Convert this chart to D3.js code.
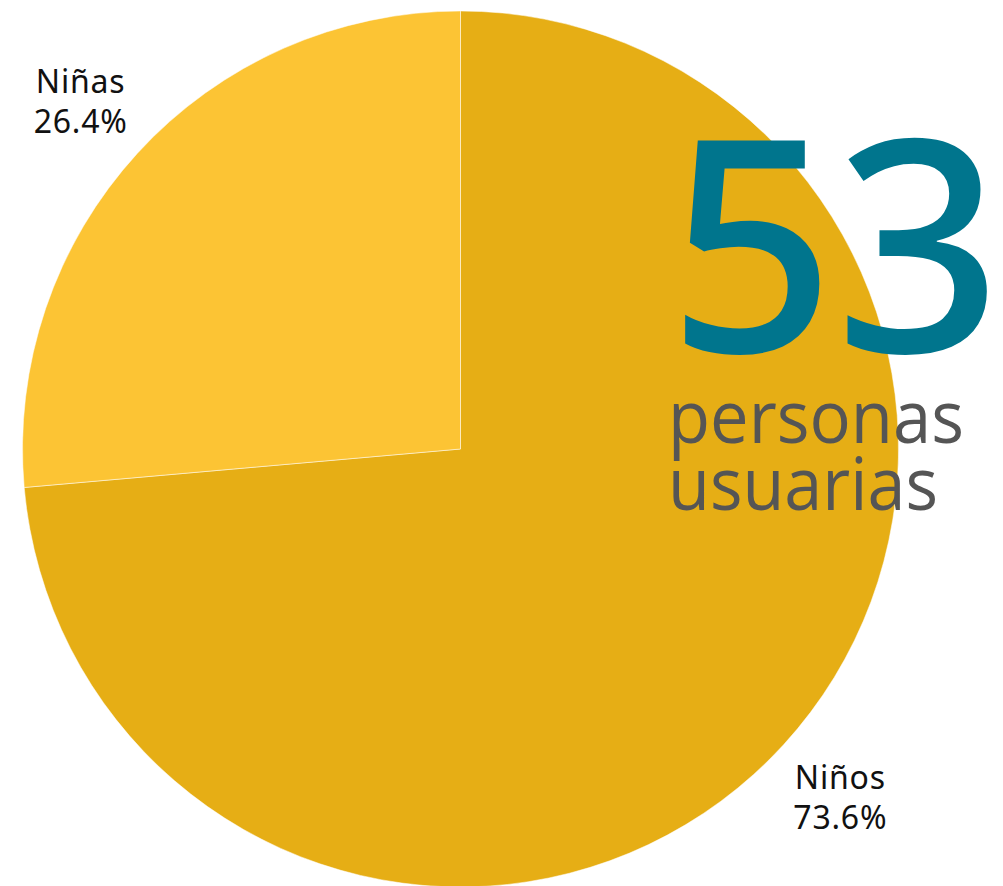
<!DOCTYPE html>
<html><head><meta charset="utf-8">
<script src="https://cdn.jsdelivr.net/npm/d3@7"></script>
<style>body{margin:0;background:#fff}svg{display:block}</style>
</head><body>
<svg id="c" width="1003" height="886"></svg>
<script>
const categories = ["Niños", "Niñas"];
const values = [73.6, 26.4];
const labels = ["73.6%", "26.4%"];
const colors = ["#E6AE15", "#FCC434"];
const total = 53;
const totalLines = ["personas", "usuarias"];

const W = 1003, H = 886;
const cx = 460.5, cy = 449, R = 438, labelR = 515;
const svg = d3.select("#c");
const g = svg.append("g").attr("transform", `translate(${cx},${cy})`);
const pie = d3.pie().sort(null).value(d => d.v);
const data = pie(categories.map((c, i) => ({c, v: values[i], l: labels[i], col: colors[i]})));
const arc = d3.arc().innerRadius(0).outerRadius(R);
const labelArc = d3.arc().innerRadius(labelR).outerRadius(labelR);

g.selectAll("path").data(data).join("path")
  .attr("d", arc).attr("fill", d => d.data.col)
  .attr("stroke", "rgba(255,255,255,0.5)").attr("stroke-width", 1);

const lab = g.selectAll("text.lab").data(data).join("text").attr("class", "lab")
  .attr("transform", d => `translate(${labelArc.centroid(d)})`)
  .attr("text-anchor", "middle")
  .style("font-family", "'Noto Sans', sans-serif").style("font-size", "32px")
  .style("letter-spacing", "0.8px").attr("fill", "#111");
lab.append("tspan").attr("x", 0).attr("y", -8).text(d => d.data.c);
lab.append("tspan").attr("x", 0).attr("y", 32).text(d => d.data.l);

svg.append("text").attr("x", 668).attr("y", 352)
  .attr("textLength", 334).attr("lengthAdjust", "spacingAndGlyphs")
  .style("font-family", "'Noto Sans', sans-serif").style("font-size", "296px")
  .style("font-weight", 500)
  .attr("fill", "#00758D").text(total);

svg.selectAll("text.tl").data(totalLines).join("text").attr("class", "tl")
  .attr("x", 668).attr("y", (d, i) => 443 + i * 67)
  .attr("textLength", (d, i) => i === 0 ? 296 : 270).attr("lengthAdjust", "spacingAndGlyphs")
  .style("font-family", "'Open Sans', sans-serif").style("font-size", "74px")
  .attr("fill", "#555555").text(d => d);
</script>
</body></html>
